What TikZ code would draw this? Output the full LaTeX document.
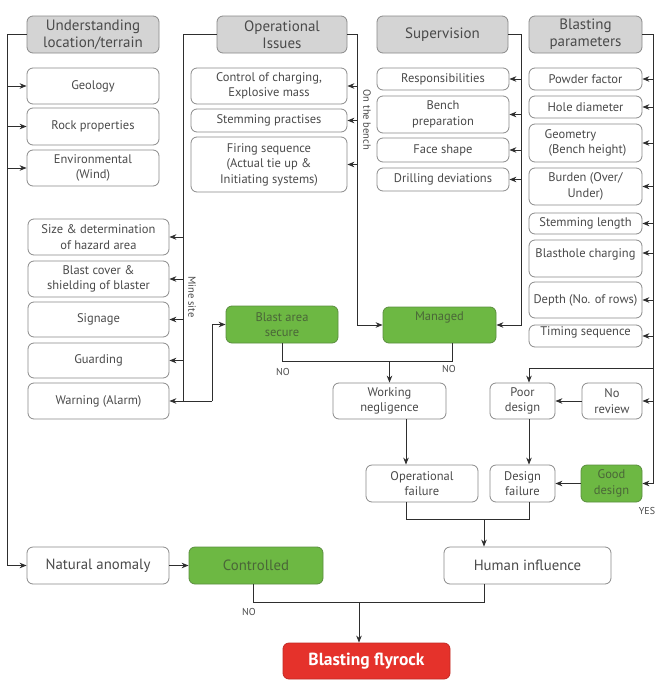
\documentclass[tikz,border=0pt]{standalone}
\usepackage{fontspec}
\setmainfont{PT Sans}
\usetikzlibrary{arrows.meta,calc}
\definecolor{txt}{HTML}{4A4A4A}
\definecolor{bord}{HTML}{8A8A8A}
\definecolor{hdr}{HTML}{D4D4D4}
\definecolor{grn}{HTML}{6DB843}
\definecolor{grnb}{HTML}{5B8E3F}
\definecolor{grntxt}{HTML}{4A6638}
\definecolor{rd}{HTML}{E5322B}
\definecolor{ln}{HTML}{2E2E2E}
\tikzset{
 box/.style={draw=bord, rounded corners=6pt, line width=0.8pt, align=center, inner sep=1pt, text=txt, font=\fontsize{12.5}{15.5}\selectfont},
 hdrbox/.style={box, fill=hdr, font=\fontsize{15}{17}\selectfont},
 grnbox/.style={box, fill=grn, draw=grnb, text=grntxt},
 bigbox/.style={box, font=\fontsize{14.8}{17}\selectfont},
 redbox/.style={box, fill=rd, draw=rd!85!black, text=white, font=\bfseries\fontsize{17.5}{20}\selectfont},
 conn/.style={draw=ln, line width=0.9pt},
 arr/.style={conn, -{Stealth[length=7pt,width=5.5pt]}},
 lab/.style={text=txt, font=\fontsize{10}{11}\selectfont, inner sep=0pt},
 side/.style={lab, rotate=-90, font=\fontsize{10.5}{11}\selectfont},
}
\newcommand{\mybox}[7]{\node[#1, minimum width={#4-#2}, minimum height={#5-#3}] (#6) at ({(#2+#4)/2},{(#3+#5)/2}) {#7};}
\begin{document}
\begin{tikzpicture}[x=1pt,y=-1pt]
\useasboundingbox (0,0) rectangle (672,699);
\fill[white] (0,0) rectangle (672,699);
% headers
\mybox{hdrbox}{27}{16}{159}{53}{ul}{Understanding\\location/terrain}
\mybox{hdrbox}{217}{16}{347}{53}{op}{Operational\\Issues}
\mybox{hdrbox}{377}{16}{508}{53}{sup}{Supervision}
\mybox{hdrbox}{529}{16}{642}{53}{bp}{Blasting\\parameters}
% column 1
\mybox{box}{27}{68}{159}{104}{geo}{Geology}
\mybox{box}{27}{108}{159}{145}{rock}{Rock properties}
\mybox{box}{27}{150}{159}{186}{env}{Environmental\\(Wind)}
% column 2
\mybox{box}{191}{68}{347}{104}{ctrl}{Control of charging,\\Explosive mass}
\mybox{box}{191}{109}{347}{132}{stemp}{Stemming practises}
\mybox{box}{191}{137}{347}{192}{fire}{Firing sequence\\(Actual tie up \&\\Initiating systems)}
% column 3
\mybox{box}{377}{68}{509}{90}{resp}{Responsibilities}
\mybox{box}{377}{96}{509}{133}{bprep}{Bench\\preparation}
\mybox{box}{377}{138}{509}{162}{face}{Face shape}
\mybox{box}{377}{168}{509}{191}{drill}{Drilling deviations}
% column 4
\mybox{box}{529}{68}{642}{90}{powder}{Powder factor}
\mybox{box}{529}{96}{642}{118}{hole}{Hole diameter}
\mybox{box,align=left}{529}{124}{642}{162}{geom}{Geometry\\\hspace{4pt}(Bench height)}
\mybox{box}{529}{168}{642}{205}{burden}{Burden (Over/\\Under)}
\mybox{box}{529}{213}{642}{234}{steml}{Stemming length}
\mybox{box,text depth=11pt}{529}{240}{642}{277}{bhc}{Blasthole charging}
\mybox{box}{529}{282}{642}{318}{depth}{Depth (No. of rows)}
\mybox{box,text depth=10pt}{529}{325}{642}{347}{timing}{Timing sequence}
% mine site boxes
\mybox{box}{28}{219}{169}{255}{size}{Size \& determination\\of hazard area}
\mybox{box}{28}{261}{169}{297}{cover}{Blast cover \&\\shielding of blaster}
\mybox{box}{28}{302}{169}{337}{sign}{Signage}
\mybox{box}{28}{343}{169}{378}{guard}{Guarding}
\mybox{box}{28}{383}{169}{419}{warn}{Warning (Alarm)}
% decisions
\mybox{grnbox}{226}{306}{338}{343}{bas}{Blast area\\secure}
\mybox{grnbox,text depth=18pt}{383}{307}{496}{343}{man}{Managed}
\mybox{box}{333}{383}{446}{419}{wn}{Working\\negligence}
\mybox{box}{490}{383}{555}{419}{poor}{Poor\\design}
\mybox{box}{582}{383}{642}{419}{nr}{No\\review}
\mybox{box}{366}{465}{478}{502}{of}{Operational\\failure}
\mybox{box}{490}{465}{555}{502}{df}{Design\\failure}
\mybox{grnbox}{581}{465}{642}{502}{good}{Good\\design}
\mybox{bigbox}{27}{547}{169}{584}{nat}{Natural anomaly}
\mybox{grnbox,font=\fontsize{14.8}{17}\selectfont}{189}{547}{323}{584}{ctl}{Controlled}
\mybox{bigbox}{444}{547}{611}{584}{hi}{Human influence}
\mybox{redbox}{283}{643}{450}{679}{fly}{Blasting flyrock}
% bus coordinates
\coordinate (xL) at (7,0);
\coordinate (xM) at (183,0);
\coordinate (xB) at (212,0);
\coordinate (xBench) at (357,0);
\coordinate (xSup) at (521,0);
\coordinate (xBP) at (653,0);
% left bus
\draw[arr] (ul.west) -| (xL |- nat.west) -- (nat.west);
\foreach \n in {geo,rock,env} \draw[arr] (xL |- \n.west) -- (\n.west);
% mine site bus
\draw[conn] (op.west) -| (xM |- warn.east);
\foreach \n in {size,cover,sign,guard} \draw[arr] (xM |- \n.east) -- (\n.east);
\draw[arr] (xB |- warn.east) -- (warn.east);
\draw[arr] (xB |- warn.east) |- (bas.west);
% on the bench bus
\draw[arr] (op.east) -| (xBench |- man.west) -- (man.west);
\foreach \n in {ctrl,stemp,fire} \draw[arr] (xBench |- \n.east) -- (\n.east);
% supervision bus
\draw[arr] (sup.east) -| (xSup |- man.east) -- (man.east);
\foreach \n in {resp,bprep,face,drill} \draw[arr] (xSup |- \n.east) -- (\n.east);
% blasting parameters bus
\draw[arr] (bp.east) -| (xBP |- good.east) -- (good.east);
\foreach \n in {powder,hole,geom,burden,steml,depth,nr} \draw[arr] (xBP |- \n.east) -- (\n.east);
\draw[arr] (xBP |- 0,253) -- ([yshift=5.5]bhc.east);
\draw[arr] (xBP |- 0,336) -- (timing.east);
\draw[arr] (xBP |- 0,368) -| ([xshift=6.5]poor.north);
% decisions
\draw[conn] (bas.south) |- ([xshift=12.5]man.south |- 0,361) -- ([xshift=12.5]man.south);
\draw[arr] (wn.north |- 0,361) -- (wn.north);
\draw[arr] (nr.west) -- (poor.east);
\draw[arr] (good.west) -- (df.east);
\draw[arr] ([xshift=16.5]wn.south) -- ([xshift=16.5]wn.south |- of.north);
\draw[arr] ([xshift=6.5]poor.south) -- ([xshift=6.5]poor.south |- df.north);
\draw[conn] ([xshift=-16]of.south) |- ([xshift=6.5]df.south |- 0,519) -- ([xshift=6.5]df.south);
\draw[arr] ([xshift=-43.5]hi.north |- 0,519) -- ([xshift=-43.5]hi.north);
\draw[arr] (nat.east) -- (ctl.west);
\draw[conn] ([xshift=-43.5]hi.south) |- ([xshift=-3]ctl.south |- 0,602) -- ([xshift=-3]ctl.south);
\draw[arr] ([xshift=-7.5]fly.north |- 0,602) -- ([xshift=-7.5]fly.north);
% labels
\node[lab] (no1) at (283,372) {NO};
\node[lab] (no2) at (449,369) {NO};
\node[lab] (no3) at (249,612) {NO};
\node[lab] (yes) at (647,511) {YES};
\node[side] (ms) at (192,297) {Mine site};
\node[side] (ob) at (367,120) {On the bench};
\end{tikzpicture}
\end{document}
